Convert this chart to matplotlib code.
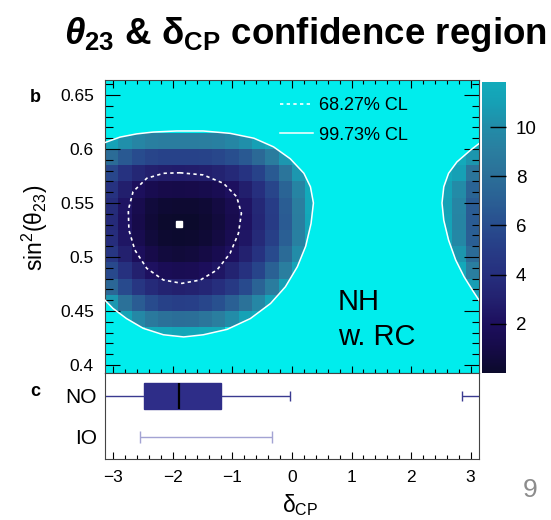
import numpy as np
import matplotlib
matplotlib.use('Agg')
import matplotlib.pyplot as plt
from matplotlib.colors import LinearSegmentedColormap
from matplotlib.path import Path
from matplotlib.lines import Line2D
from matplotlib.ticker import MultipleLocator, FuncFormatter

plt.rcParams['font.family'] = ['Liberation Sans', 'DejaVu Sans']
plt.rcParams['mathtext.fontset'] = 'custom'
plt.rcParams['mathtext.it'] = 'Liberation Sans:bold:italic'
plt.rcParams['mathtext.rm'] = 'Liberation Sans'
plt.rcParams['mathtext.default'] = 'regular'

PI = np.pi
X = 15.0  # above colour range (shown as saturated cyan)

# ---------------- data ----------------
# Delta chi^2 grid: 28 delta_CP bins in [-pi, pi], 18 sin^2(theta23) bins in [0.39, 0.66]
dchi2 = [
    [X] * 28,
    [X] * 28,
    [X, X, X, 11.7, 11.67, 11.44, 11.55, 11.7, 11.7] + [X] * 19,
    [X, 11.14, 9.74, 8.73, 8.13, 7.91, 8.02, 8.40, 9.04, 9.96, 11.16, 11.6] + [X] * 16,
    [10.6, 8.15, 6.82, 5.87, 5.31, 5.10, 5.20, 5.55, 6.16, 7.03, 8.18, 9.62, 11.36, 11.7] + [X] * 13 + [11.6],
    [7.52, 5.83, 4.57, 3.68, 3.16, 2.97, 3.07, 3.39, 3.95, 4.77, 5.86, 7.23, 8.90, 10.91] + [X] * 13 + [10.90],
    [5.76, 4.15, 2.96, 2.13, 1.65, 1.48, 1.57, 1.86, 2.38, 3.14, 4.17, 5.48, 7.09, 9.04, 11.33] + [X] * 11 + [11.6, 9.03],
    [4.55, 3.00, 1.88, 1.12, 0.69, 0.55, 0.62, 0.88, 1.35, 2.05, 3.02, 4.28, 5.84, 7.73, 9.98, 11.7] + [X] * 9 + [11.7, 10.45, 7.72],
    [3.87, 2.36, 1.30, 0.59, 0.21, 0.10, 0.15, 0.37, 0.80, 1.46, 2.39, 3.61, 5.13, 6.99, 9.21, 11.78] + [X] * 9 + [11.5, 9.66, 6.98],
    [3.67, 2.19, 1.13, 0.44, 0.09, 0.00, 0.04, 0.24, 0.64, 1.29, 2.21, 3.41, 4.93, 6.78, 8.98, 11.55] + [X] * 9 + [11.2, 9.44, 6.75],
    [3.76, 2.29, 1.25, 0.60, 0.30, 0.24, 0.26, 0.41, 0.79, 1.41, 2.31, 3.50, 5.01, 6.86, 9.05, 11.61] + [X] * 9 + [11.0, 9.51, 6.83],
    [4.28, 2.88, 1.93, 1.37, 1.14, 1.10, 1.12, 1.23, 1.52, 2.07, 2.90, 4.04, 5.50, 7.31, 9.47, 11.7] + [X] * 9 + [11.2, 9.92, 7.28],
    [5.57, 4.28, 3.44, 2.98, 2.80, 2.77, 2.78, 2.87, 3.11, 3.56, 4.30, 5.34, 6.72, 8.44, 10.53, 11.7] + [X] * 9 + [11.6, 10.97, 8.42],
    [7.83, 6.67, 5.94, 5.54, 5.39, 5.36, 5.37, 5.44, 5.65, 6.04, 6.69, 7.62, 8.88, 10.50, 11.6] + [X] * 11 + [11.6, 10.48],
    [11.18, 10.14, 9.49, 9.14, 9.01, 8.98, 8.99, 9.05, 9.23, 9.58, 10.15, 10.99, 11.6] + [X] * 14 + [11.6],
    [X] * 28,
    [X] * 28,
    [X] * 28,
]
delta_edges = np.linspace(-PI, PI, 29)
s2_edges = np.linspace(0.39, 0.66, 19)
zmax = 11.83

# 99.73% CL contour (left island and right island), 68.27% CL contour
cl997_left_d = [-PI, -2.89, -2.61, -2.33, -1.94, -1.49, -1.04, -0.64, -0.31, -0.03, 0.20, 0.31, 0.36,
                0.32, 0.23, 0.09, -0.11, -0.36, -0.70, -1.09, -1.49, -1.82, -2.16, -2.50, -2.78, -3.01, -PI]
cl997_left_s = [0.606, 0.611, 0.614, 0.6157, 0.6167, 0.6167, 0.6145, 0.610, 0.602, 0.591, 0.5775, 0.565, 0.550,
                0.531, 0.510, 0.491, 0.4725, 0.457, 0.443, 0.433, 0.428, 0.426, 0.428, 0.434, 0.443, 0.4525, 0.460]
cl997_right_d = [PI, 3.00, 2.77, 2.63, 2.55, 2.52, 2.55, 2.63, 2.75, 2.89, 3.03, PI]
cl997_right_s = [0.605, 0.599, 0.588, 0.5775, 0.565, 0.550, 0.534, 0.5157, 0.4972, 0.4818, 0.4694, 0.460]
cl683_d = [-1.88, -1.49, -1.15, -0.93, -0.85, -0.90, -1.04, -1.26, -1.54, -1.85, -2.16, -2.44, -2.64,
           -2.74, -2.75, -2.67, -2.44, -2.16, -1.88]
cl683_s = [0.578, 0.576, 0.5682, 0.5559, 0.5405, 0.5219, 0.5034, 0.488, 0.4787, 0.4756, 0.4787, 0.4895, 0.5065,
           0.525, 0.5435, 0.5605, 0.5729, 0.5775, 0.578]
best_fit = (-1.89, 0.531)

# 1D intervals on delta_CP
orderings = ['NO', 'IO']
no_best = -1.89
no_box = (-2.48, -1.19)
no_wide = [(-PI, -0.03), (2.86, PI)]
io_wide = [(-2.56, -0.33)]

# ---------------- figure ----------------
fig = plt.figure(figsize=(5.51, 5.20), dpi=100)
W, H = 551.0, 520.0
ax = fig.add_axes([105 / W, 1 - 373 / H, 374 / W, 293 / H])
ax2 = fig.add_axes([105 / W, 1 - 459 / H, 374 / W, 86 / H])
cax = fig.add_axes([482 / W, 1 - 373 / H, 24 / W, 291 / H])

cols = ['#0b0a2c', '#160b48', '#1d0f5e', '#23216f', '#262f7e', '#273c86', '#284d8e',
        '#2a5f94', '#2b6f98', '#2a7d9f', '#228ca8', '#16a0b5', '#12abbb']
vals = [0, 1, 2, 3, 4, 5, 6, 7, 8, 9, 10, 11, zmax]
cmap = LinearSegmentedColormap.from_list('dchi2', [(v / zmax, c) for v, c in zip(vals, cols)], N=256)
cyan = '#00eded'
cmap.set_over(cyan)

ax.set_facecolor(cyan)
pcm = ax.pcolormesh(delta_edges, s2_edges, np.array(dchi2), cmap=cmap, vmin=0, vmax=zmax,
                    shading='flat', zorder=1)
verts = list(zip(cl997_left_d, cl997_left_s)) + [(cl997_left_d[0], cl997_left_s[0])] + \
    list(zip(cl997_right_d, cl997_right_s)) + [(cl997_right_d[0], cl997_right_s[0])]
codes = ([Path.MOVETO] + [Path.LINETO] * (len(cl997_left_d) - 1) + [Path.CLOSEPOLY] +
         [Path.MOVETO] + [Path.LINETO] * (len(cl997_right_d) - 1) + [Path.CLOSEPOLY])
pcm.set_clip_path(Path(verts, codes), ax.transData)

ax.plot(cl997_left_d, cl997_left_s, color='white', lw=1.1, zorder=3)
ax.plot(cl997_right_d, cl997_right_s, color='white', lw=1.1, zorder=3)
ax.plot(cl683_d, cl683_s, color='white', lw=1.2, ls=(0, (2, 2)), zorder=3)
ax.plot([best_fit[0]], [best_fit[1]], 's', color='white', ms=4, mec='white', zorder=4)

ax.set_xlim(-PI, PI)
ax.set_ylim(0.3926, 0.6639)
ax.xaxis.set_major_locator(MultipleLocator(1))
ax.xaxis.set_minor_locator(MultipleLocator(0.2))
ax.yaxis.set_major_locator(MultipleLocator(0.05))
ax.yaxis.set_minor_locator(MultipleLocator(0.01))
ax.yaxis.set_major_formatter(FuncFormatter(lambda v, p: f'{v:g}'))
ax.tick_params(axis='x', which='both', direction='in', top=True, bottom=True, labelbottom=False)
ax.tick_params(axis='x', which='major', length=5.4, width=0.8)
ax.tick_params(axis='x', which='minor', length=2.9, width=0.8)
ax.tick_params(axis='y', which='both', direction='in', left=True, right=True, labelsize=12.5, pad=8)
ax.tick_params(axis='y', which='major', length=10.8, width=0.8)
ax.tick_params(axis='y', which='minor', length=5.4, width=0.8)
for sp in ax.spines.values():
    sp.set_color('#444444')
    sp.set_linewidth(0.8)

handles = [Line2D([], [], color='white', lw=1.2, ls=(0, (2, 2))),
           Line2D([], [], color='white', lw=1.1)]
ax.legend(handles, ['68.27% CL', '99.73% CL'], loc='upper left', bbox_to_anchor=(0.468, 0.941),
          frameon=False, fontsize=13, handlelength=1.8, handletextpad=0.35, labelspacing=0.68,
          borderpad=0, borderaxespad=0)

ax.text(0.623, 0.215, 'NH', transform=ax.transAxes, fontsize=21, va='baseline', ha='left')
ax.text(0.623, 0.0956, 'w. RC', transform=ax.transAxes, fontsize=21, va='baseline', ha='left')

cb = fig.colorbar(pcm, cax=cax, ticks=[2, 4, 6, 8, 10])
cb.outline.set_linewidth(0)
cax.tick_params(direction='in', length=11.5, width=1, labelsize=13.5, pad=7, right=True, left=False)

# lower panel: 1D intervals
box_col = '#2e2d88'
ax2.barh(1, no_box[1] - no_box[0], left=no_box[0], height=0.62, color=box_col, edgecolor=box_col, zorder=2)
ax2.vlines(no_best, 1 - 0.31, 1 + 0.31, color='black', lw=1.6, zorder=3)
ax2.hlines(1, no_wide[0][0], no_box[0], color='#3a3a90', lw=1.0)
ax2.hlines(1, no_box[1], no_wide[0][1], color='#3a3a90', lw=1.0)
ax2.hlines(1, no_wide[1][0], no_wide[1][1], color='#3a3a90', lw=1.0)
ax2.vlines([no_wide[0][1], no_wide[1][0]], 1 - 0.13, 1 + 0.13, color='#3a3a90', lw=1.0)
for lo, hi in io_wide:
    ax2.hlines(0, lo, hi, color='#a3a3d3', lw=1.0)
    ax2.vlines([lo, hi], -0.15, 0.15, color='#a3a3d3', lw=1.0)

ax2.set_xlim(-PI, PI)
ax2.set_ylim(-0.54, 1.56)
ax2.set_yticks([1, 0])
ax2.set_yticklabels(orderings)
ax2.tick_params(axis='y', length=0, labelsize=15, pad=6)
ax2.xaxis.set_major_locator(MultipleLocator(1))
ax2.xaxis.set_minor_locator(MultipleLocator(0.2))
ax2.tick_params(axis='x', which='both', direction='in', top=False, bottom=True, labelsize=12.5, pad=8)
ax2.tick_params(axis='x', which='major', length=5.4, width=0.8)
ax2.tick_params(axis='x', which='minor', length=2.9, width=0.8)
for sp in ax2.spines.values():
    sp.set_color('#444444')
    sp.set_linewidth(0.8)

# texts
fig.text(305 / W, 1 - 44 / H, r'$\mathit{\theta}_{23}$ & $\delta_{CP}$ confidence region',
         fontsize=26.5, fontweight='bold', ha='center', va='baseline')
fig.text(35 / W, 1 - 228 / H, r'$sin^{2}(\theta_{23})$', fontsize=16.5, rotation=90, ha='center', va='center')
fig.text(300 / W, 1 - 505 / H, r'$\delta_{CP}$', fontsize=16.5, ha='center', va='center')
fig.text(35 / W, 1 - 98 / H, 'b', fontsize=13, fontweight='bold', ha='center', va='center')
fig.text(35 / W, 1 - 391 / H, 'c', fontsize=13, fontweight='bold', ha='center', va='center')
fig.text(530 / W, 1 - 490 / H, '9', fontsize=19, color='#8c8c8c', ha='center', va='center')

fig.savefig('out.png', dpi=100)
